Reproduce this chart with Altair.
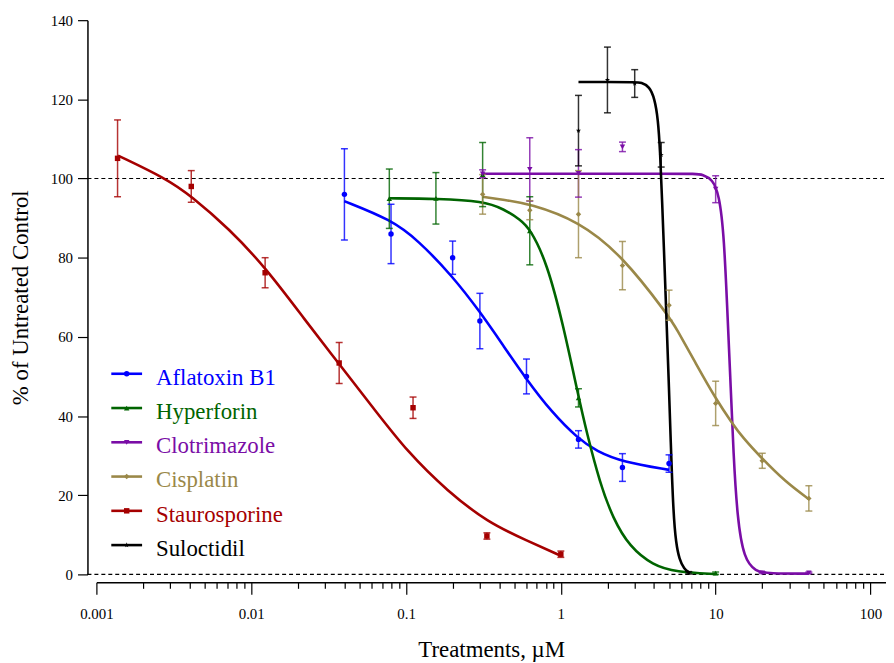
import altair as alt
import pandas as pd

# ---------------- data ----------------
names = ["Aflatoxin B1", "Hyperforin", "Clotrimazole", "Cisplatin", "Staurosporine", "Suloctidil"]
colors = ["#0000FF", "#006400", "#7A0DA6", "#9A8848", "#A50000", "#000000"]
star = "M0,-1L0.2245,-0.309L0.951,-0.309L0.363,0.118L0.588,0.809L0,0.382L-0.588,0.809L-0.363,0.118L-0.951,-0.309L-0.2245,-0.309Z"
shapes = ["circle", "triangle-up", "triangle-down", "diamond", "square", star]
sizes = [30, 30, 30, 22, 12, 40]

# measured points (mean, error)
afla_x = [0.04, 0.08, 0.2, 0.3, 0.6, 1.3, 2.5, 5.0]
afla_y = [96.0, 86.0, 80.0, 64.0, 50.0, 34.1, 27.0, 28.0]
afla_e = [11.5, 7.5, 4.2, 7.0, 4.4, 2.2, 3.5, 2.2]

hype_x = [0.078, 0.156, 0.3125, 0.63, 1.3, 10.0]
hype_y = [94.9, 95.0, 101.0, 86.8, 44.6, 0.3]
hype_e = [7.5, 6.5, 8.1, 8.6, 2.3, 0.3]

clot_x = [0.3125, 0.63, 1.3, 2.5, 10.0, 20.0, 40.0]
clot_y = [101.2, 102.3, 101.3, 108.0, 97.3, 0.4, 0.4]
clot_e = [1.0, 8.0, 6.0, 1.2, 3.4, 0.2, 0.2]

cisp_x = [0.3125, 0.63, 1.3, 2.5, 5.0, 10.0, 20.0, 40.0]
cisp_y = [96.0, 92.0, 91.0, 78.0, 68.0, 43.2, 28.7, 19.2]
cisp_e = [5.0, 2.4, 11.0, 6.1, 3.8, 5.6, 1.9, 3.2]

stau_x = [0.00137, 0.0041, 0.0123, 0.037, 0.111, 0.333, 1.0]
stau_y = [105.1, 98.0, 76.2, 53.4, 42.1, 9.7, 5.1]
stau_e = [9.7, 4.0, 3.8, 5.2, 2.7, 0.8, 0.8]

sulo_x = [1.3, 2.0, 3.0, 4.45, 6.7]
sulo_y = [112.1, 124.9, 124.0, 106.0, 0.4]
sulo_e = [8.9, 8.3, 3.5, 3.1, 0.3]

# fitted curves
afla_cx = [0.0399, 0.08, 0.119, 0.2, 0.302, 0.418, 0.596, 0.876, 1.285, 1.7, 2.5, 5.0]
afla_cy = [94.3, 89.6, 84.5, 75.3, 66.2, 58.2, 49.4, 40.9, 34.4, 31.1, 28.4, 26.4]

hype_cx = [0.0776, 0.16, 0.3146, 0.429, 0.548, 0.633, 0.813, 1.041, 1.3, 1.468, 1.787, 2.18, 2.78, 3.93, 5.55, 10.0]
hype_cy = [95.0, 94.9, 94.3, 92.3, 89.6, 87.3, 78.8, 62.7, 44.9, 35.9, 23.1, 14.0, 7.0, 2.3, 0.6, 0.1]

clot_cx = [0.31, 1.3, 5.0, 7.46, 8.23, 9.54, 10.52, 11.33, 12.02, 12.51, 13.02, 13.81, 15.22, 18.09, 22.03, 40.0]
clot_cy = [101.2, 101.2, 101.2, 101.2, 101.0, 99.8, 96.0, 86.0, 62.5, 47.5, 30.8, 14.0, 4.0, 0.7, 0.2, 0.2]

cisp_cx = [0.31, 0.429, 0.635, 1.3, 2.5, 4.98, 5.55, 7.46, 10.0, 12.83, 14.86, 19.98, 28.2, 40.0]
cisp_cy = [95.4, 94.6, 93.6, 89.3, 80.5, 65.2, 62.3, 53.2, 44.4, 38.1, 34.7, 29.2, 23.4, 19.0]

stau_cx = [0.00138, 0.00282, 0.00409, 0.0072, 0.01238, 0.02234, 0.0365, 0.0613, 0.1028, 0.1856, 0.335, 0.605, 1.0]
stau_cy = [105.8, 100.0, 95.6, 87.3, 77.5, 64.2, 53.4, 42.1, 30.8, 21.0, 13.2, 8.5, 4.7]

sulo_cx = [1.3, 2.0, 3.02, 3.31, 3.74, 4.03, 4.24, 4.38, 4.51, 4.67, 4.82, 4.98, 5.12, 5.33, 5.55, 5.83, 6.25, 6.75]
sulo_cy = [124.4, 124.4, 124.3, 124.3, 123.2, 120.2, 115.2, 106.9, 94.3, 78.8, 63.7, 48.7, 34.1, 15.3, 7.8, 3.8, 1.4, 0.4]

x_ticks = [m * 10.0 ** p for p in range(-3, 2) for m in range(1, 10)] + [100.0]

# ---------------- tables ----------------
pts_src = [(afla_x, afla_y, afla_e), (hype_x, hype_y, hype_e), (clot_x, clot_y, clot_e),
           (cisp_x, cisp_y, cisp_e), (stau_x, stau_y, stau_e), (sulo_x, sulo_y, sulo_e)]
crv_src = [(afla_cx, afla_cy), (hype_cx, hype_cy), (clot_cx, clot_cy),
           (cisp_cx, cisp_cy), (stau_cx, stau_cy), (sulo_cx, sulo_cy)]

rows = []
for n, (xs_, ys_, es_) in zip(names, pts_src):
    for x, y, e in zip(xs_, ys_, es_):
        rows.append({"series": n, "x": x, "y": y, "lo": y - e, "hi": y + e})
pts = pd.DataFrame(rows)

rows = []
for n, (xs_, ys_) in zip(names, crv_src):
    for i, (x, y) in enumerate(zip(xs_, ys_)):
        rows.append({"series": n, "x": x, "y": y, "i": i})
crv = pd.DataFrame(rows)

leg = pd.DataFrame({"series": names, "row": list(range(len(names)))})
refs = pd.DataFrame({"y": [0, 100]})

# ---------------- chart ----------------
W, H = 804, 558
FONT = "Liberation Serif"
major = "abs(log(datum.value)/LN10 - round(log(datum.value)/LN10)) < 0.001"

xs = alt.Scale(type="log", domain=[0.001, 126], nice=False, zero=False, rangeMin=9)
ys = alt.Scale(domain=[0, 140], nice=False, zero=False)
cs = alt.Scale(domain=names, range=colors)
ss = alt.Scale(domain=names, range=shapes)
zs = alt.Scale(domain=names, range=sizes)

x_axis = alt.Axis(
    values=x_ticks, labelExpr=major + " ? format(datum.value, '~g') : ''",
    tickSize={"condition": {"test": major, "value": 12}, "value": 6},
    offset=8, grid=False, labelOverlap=False, labelFlush=False,
    labelFont=FONT, labelFontSize=15, labelColor="#000", labelPadding=12,
    domainColor="#000", domainWidth=1.5, tickColor="#000", tickWidth=1.2,
    title="Treatments, µM", titleFont=FONT, titleFontSize=23, titleFontWeight="normal",
    titleColor="#000", titleBaseline="alphabetic", titleY=75,
)
y_axis = alt.Axis(
    values=list(range(0, 141, 20)), tickSize=10, grid=False,
    labelFont=FONT, labelFontSize=15, labelColor="#000", labelPadding=5,
    domainColor="#000", domainWidth=1.5, tickColor="#000", tickWidth=1.2,
    title="% of Untreated Control", titleFont=FONT, titleFontSize=23,
    titleFontWeight="normal", titleColor="#000", titleAngle=270,
    titleBaseline="alphabetic", titleX=-60,
)

base_x = alt.X("x:Q", scale=xs, axis=x_axis)
base_y = alt.Y("y:Q", scale=ys, axis=y_axis)
col = alt.Color("series:N", scale=cs, legend=None)

refl = alt.Chart(refs).mark_rule(color="#000", strokeDash=[4, 3], strokeWidth=1.2).encode(
    y=alt.Y("y:Q", scale=ys), x=alt.value(0), x2=alt.value(W))

curves = alt.Chart(crv).mark_line(strokeWidth=2.6, interpolate="basis").encode(
    x=base_x, y=base_y, color=col, detail="series:N", order="i:Q")

bars = alt.Chart(pts).mark_rule(strokeWidth=1.5, opacity=0.8).encode(
    x=alt.X("x:Q", scale=xs), y=alt.Y("lo:Q", scale=ys), y2="hi:Q", color=col)
cap_lo = alt.Chart(pts).mark_tick(orient="horizontal", size=7, thickness=1.5, opacity=0.8).encode(
    x=alt.X("x:Q", scale=xs), y=alt.Y("lo:Q", scale=ys), color=col)
cap_hi = alt.Chart(pts).mark_tick(orient="horizontal", size=7, thickness=1.5, opacity=0.8).encode(
    x=alt.X("x:Q", scale=xs), y=alt.Y("hi:Q", scale=ys), color=col)
marks = alt.Chart(pts).mark_point(filled=True, opacity=1).encode(
    x=alt.X("x:Q", scale=xs), y=alt.Y("y:Q", scale=ys), color=col,
    shape=alt.Shape("series:N", scale=ss, legend=None),
    size=alt.Size("series:N", scale=zs, legend=None))

# manual legend
legbase = alt.Chart(leg).transform_calculate(ly="356 + datum.row * 34.5", ty="367 + datum.row * 34.5")
leg_line = legbase.mark_rule(strokeWidth=2.6).encode(
    y=alt.Y("ly:Q", scale=None), x=alt.value(24), x2=alt.value(55), color=col)
leg_pt = legbase.mark_point(filled=True, opacity=1).encode(
    y=alt.Y("ly:Q", scale=None), x=alt.value(39.5), color=col,
    shape=alt.Shape("series:N", scale=ss, legend=None),
    size=alt.Size("series:N", scale=zs, legend=None))
leg_txt = legbase.mark_text(align="left", baseline="alphabetic", font=FONT, fontSize=23).encode(
    y=alt.Y("ty:Q", scale=None), x=alt.value(69), text="series:N", color=col)

chart = alt.layer(refl, curves, bars, cap_lo, cap_hi, marks, leg_line, leg_pt, leg_txt).properties(
    width=W, height=H,
    autosize=alt.AutoSizeParams(type="none"),
    padding={"left": 80, "top": 10, "right": 0, "bottom": 95},
).configure_view(stroke=None).resolve_scale(x="shared", y="shared")

chart.save("out.html", embed_options={"renderer": "svg", "actions": False})
